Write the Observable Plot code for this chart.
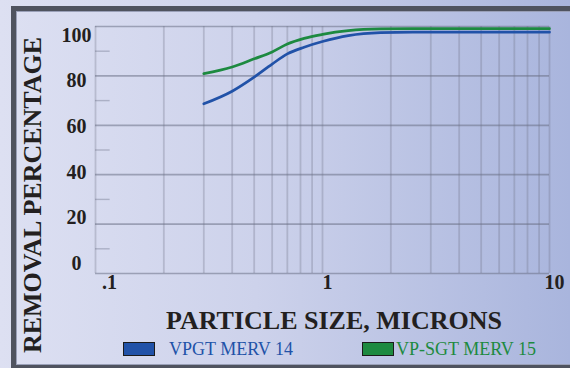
<!DOCTYPE html>
<html>
<head>
<meta charset="utf-8">
<script src="https://cdn.jsdelivr.net/npm/d3@7"></script>
<script src="https://cdn.jsdelivr.net/npm/@observablehq/plot@0.6"></script>
<style>
  html, body { margin: 0; padding: 0; }
  body { width: 570px; height: 368px; overflow: hidden; }
  #wrap {
    position: relative; width: 570px; height: 368px; overflow: hidden;
    background: linear-gradient(to right, #dde0f2 0%, #cdd2eb 45%, #a9b5dd 100%);
    font-family: "Liberation Serif", "Times New Roman", serif;
  }
  #frame {
    position: absolute; left: 11px; top: 6px; width: 600px; height: 354px;
    border: 5px solid #4f535f;
    box-shadow: inset 0 0 0 1px #9aa0b8;
  }
  #chart { position: absolute; left: 0; top: 0; }
  .ytitle {
    position: absolute; left: 33px; top: 195px; white-space: nowrap;
    transform: translate(-50%, -50%) rotate(-90deg);
    font-size: 26px; font-weight: bold; color: #231f20; line-height: 1;
  }
  .xtitle {
    position: absolute; left: 334px; top: 308px; transform: translateX(-50%);
    white-space: nowrap; font-size: 26px; font-weight: bold; color: #231f20; line-height: 1;
  }
  .legend { position: absolute; top: 340px; font-size: 18px; line-height: 1; white-space: nowrap; display: flex; align-items: center; }
  .sw { display: inline-block; width: 30px; height: 12px; border: 1.5px solid #1b1b1b; }
</style>
</head>
<body>
<div id="wrap">
  <div id="frame"></div>
  <div id="chart"></div>
  <div class="ytitle">REMOVAL PERCENTAGE</div>
  <div class="xtitle">PARTICLE SIZE, MICRONS</div>
  <div id="legend"></div>
</div>
<script>
// Particle sizes (microns)
const sizes = [0.3, 0.4, 0.5, 0.6, 0.7, 0.83, 1.0, 1.3, 1.8, 2.5, 10];
// Removal percentage, VPGT MERV 14
const merv14 = [68.7, 73.8, 79.5, 84.8, 88.9, 91.6, 93.9, 96.3, 97.5, 97.7, 97.7];
// Removal percentage, VP-SGT MERV 15
const merv15 = [80.9, 83.6, 86.9, 89.7, 92.9, 95.2, 96.8, 98.3, 99.0, 99.1, 99.1];

const seriesNames = ["VPGT MERV 14", "VP-SGT MERV 15"];
const seriesColors = ["#2152a8", "#1d8a40"];

const yTicks = [0, 20, 40, 60, 80, 100];
const yMinorTicks = [10, 30, 50, 70, 90];
const xGrid = [0.1, 0.2, 0.3, 0.4, 0.5, 0.6, 0.7, 0.8, 0.9, 1, 2, 3, 4, 5, 6, 7, 8, 9, 10];
const xTickValues = [0.1, 1, 10];
const xTickLabels = [".1", "1", "10"];

const rows = [];
sizes.forEach((s, i) => {
  rows.push({size: s, pct: merv14[i], series: seriesNames[0]});
  rows.push({size: s, pct: merv15[i], series: seriesNames[1]});
});
const xTicks = xTickValues.map((v, i) => ({v, label: xTickLabels[i]}));

const gridColor = "#6c7186";
const ink = "#231f20";
const font = "Liberation Serif, Times New Roman, serif";
const tickStyle = {frameAnchor: "bottom", dy: 15, textAnchor: "middle", fontSize: 20, fontWeight: "bold", fill: ink, fontFamily: font};

const chart = Plot.plot({
  width: 570,
  height: 368,
  marginLeft: 95,
  marginRight: 21,
  marginTop: 26,
  marginBottom: 95,
  x: {type: "log", domain: [0.1, 10], axis: null},
  y: {domain: [0, 100], axis: null},
  color: {domain: seriesNames, range: seriesColors},
  style: {background: "transparent", overflow: "visible", fontFamily: font},
  marks: [
    Plot.ruleX(xGrid, {stroke: gridColor, strokeOpacity: 0.3, strokeWidth: 1.8}),
    Plot.ruleY(yTicks, {stroke: gridColor, strokeOpacity: 0.55, strokeWidth: 1.7}),
    Plot.ruleY(yMinorTicks, {x1: 0.1, x2: 0.116, stroke: gridColor, strokeOpacity: 0.4, strokeWidth: 1.4}),
    Plot.line(rows, {x: "size", y: "pct", z: "series", stroke: "series", strokeWidth: 2.7, curve: "monotone-x"}),
    Plot.text(yTicks, {
      y: d => 4 + 0.925 * d, text: d => String(d), frameAnchor: "left", dx: -19,
      textAnchor: "middle", fontSize: 20, fontWeight: "bold", fill: ink, fontFamily: font
    }),
    Plot.text(xTicks.filter(d => d.v < 1), {x: "v", text: "label", dx: 14, ...tickStyle}),
    Plot.text(xTicks.filter(d => d.v >= 1), {x: "v", text: "label", dx: 5, ...tickStyle})
  ]
});
document.getElementById("chart").appendChild(chart);

// Legend
const legendPos = [123, 362];
const legend = document.getElementById("legend");
seriesNames.forEach((name, i) => {
  const item = document.createElement("div");
  item.className = "legend";
  item.style.left = legendPos[i] + "px";
  const sw = document.createElement("span");
  sw.className = "sw";
  sw.style.background = seriesColors[i];
  const label = document.createElement("span");
  label.textContent = name;
  label.style.color = seriesColors[i];
  label.style.marginLeft = i === 0 ? "14px" : "2px";
  item.appendChild(sw);
  item.appendChild(label);
  legend.appendChild(item);
});
</script>
</body>
</html>
